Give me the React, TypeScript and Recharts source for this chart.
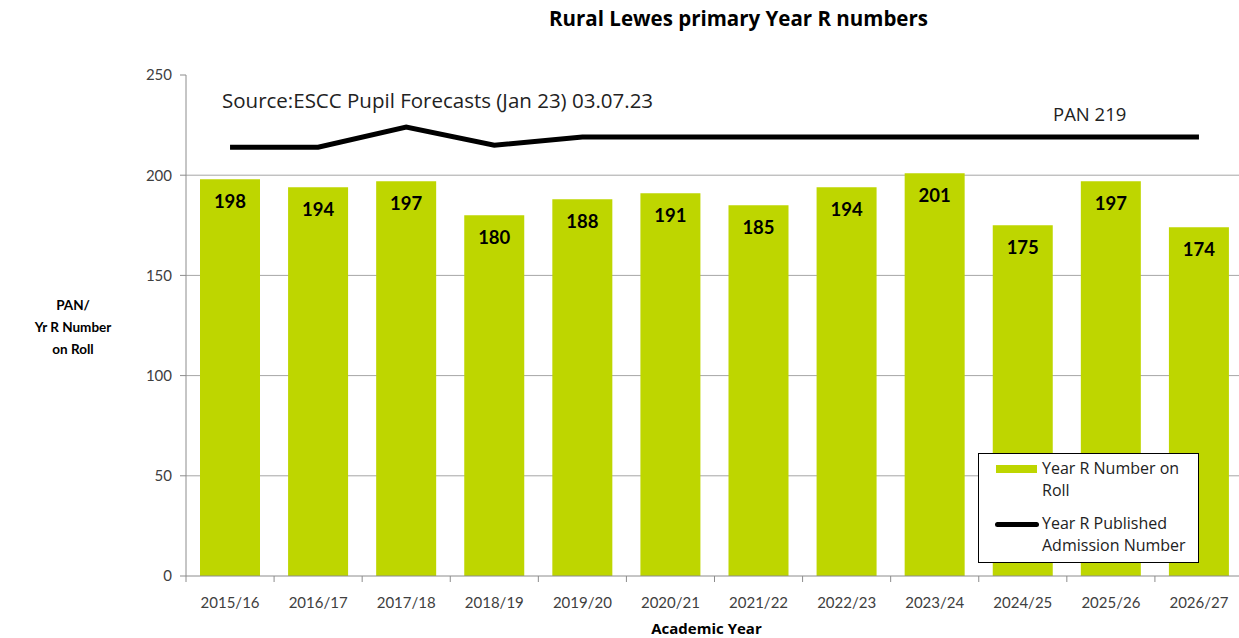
import React from 'react';
import { ComposedChart, Bar, Line, XAxis, YAxis, CartesianGrid, LabelList, Legend } from 'recharts';

const categories = ['2015/16', '2016/17', '2017/18', '2018/19', '2019/20', '2020/21', '2021/22', '2022/23', '2023/24', '2024/25', '2025/26', '2026/27'];
const yearRNumbers = [198, 194, 197, 180, 188, 191, 185, 194, 201, 175, 197, 174];
const panValues = [214, 214, 224, 215, 219, 219, 219, 219, 219, 219, 219, 219];
const yTicks = [0, 50, 100, 150, 200, 250];

const data = categories.map((c, i) => ({ year: c, roll: yearRNumbers[i], pan: panValues[i] }));

const FONT = 'Lato, "Open Sans", sans-serif';
const WIDE = '"Open Sans", Lato, sans-serif';
const GREEN = '#BED600';
const AXIS = '#8c8c8c';

const XTick = (props: any) => {
  const { x, y, payload, index, visibleTicksCount } = props;
  const half = payload && payload.offset ? payload.offset : 44;
  const last = index === visibleTicksCount - 1;
  return (
    <g>
      <line x1={x - half} y1={y} x2={x - half} y2={y + 6} stroke={AXIS} strokeWidth={1} />
      {last && <line x1={x + half} y1={y} x2={x + half} y2={y + 6} stroke={AXIS} strokeWidth={1} />}
      <text x={x} y={y + 32} textAnchor="middle" fontSize={15} fill="#404040" fontFamily={FONT}>
        {payload.value}
      </text>
    </g>
  );
};

const LegendContent = () => (
  <div
    style={{
      width: 221,
      height: 110,
      boxSizing: 'border-box',
      border: '1.5px solid #000',
      background: '#fff',
      fontFamily: WIDE,
      fontSize: 16,
      color: '#222',
      position: 'relative',
      textAlign: 'left',
    }}
  >
    <div style={{ position: 'absolute', left: 17, top: 11, width: 41, height: 8, background: GREEN }} />
    <div style={{ position: 'absolute', left: 63, top: 3, lineHeight: '22px', whiteSpace: 'nowrap' }}>
      Year R Number on<br />Roll
    </div>
    <div style={{ position: 'absolute', left: 16, top: 68, width: 44, height: 5, background: '#000', borderRadius: 3 }} />
    <div style={{ position: 'absolute', left: 63, top: 58, lineHeight: '22px', whiteSpace: 'nowrap' }}>
      Year R Published<br />Admission Number
    </div>
  </div>
);

export default function App() {
  return (
    <div style={{ position: 'absolute', left: 0, top: 0, width: 1239, height: 638, background: '#fff', fontFamily: FONT }}>
      <ComposedChart
        width={1239}
        height={638}
        data={data}
        margin={{ top: 75, right: -4, bottom: 0, left: 0 }}
      >
        <CartesianGrid vertical={false} stroke="#a6a6a6" horizontalValues={[50, 100, 150, 200]} />
        <XAxis
          dataKey="year"
          stroke={AXIS}
          tickLine={false}
          tickSize={0}
          tickMargin={0}
          height={62}
          tick={<XTick />}
          interval={0}
          label={{
            value: 'Academic Year',
            position: 'insideBottom',
            offset: 0,
            dx: -8,
            dy: -4,
            fontSize: 15,
            fontWeight: 700,
            fill: '#000',
            fontFamily: WIDE,
          }}
        />
        <YAxis
          domain={[0, 250]}
          ticks={yTicks}
          width={186}
          stroke={AXIS}
          tickSize={6}
          tickMargin={8}
          tick={{ fontSize: 15, fill: '#404040', fontFamily: FONT }}
          label={{
            content: () => (
              <text textAnchor="middle" fontSize={13.5} fontWeight={700} fill="#000" fontFamily={FONT}>
                <tspan x={73} y={310}>PAN/</tspan>
                <tspan x={73} y={332}>Yr R Number</tspan>
                <tspan x={73} y={354}>on Roll</tspan>
              </text>
            ),
          }}
        />
        <Legend
          layout="horizontal"
          verticalAlign="middle"
          align="center"
          wrapperStyle={{ left: 978, top: 453, width: 221, height: 110 }}
          content={<LegendContent />}
        />
        <Bar dataKey="roll" name="Year R Number on Roll" fill={GREEN} barSize={60} isAnimationActive={false}>
          <LabelList
            dataKey="roll"
            position="insideTop"
            offset={16}
            fontSize={18.5}
            fontWeight={700}
            fill="#000"
            fontFamily={FONT}
          />
        </Bar>
        <Line
          dataKey="pan"
          name="Year R Published Admission Number"
          stroke="#000"
          strokeWidth={5}
          dot={false}
          activeDot={false}
          isAnimationActive={false}
        />
      </ComposedChart>
      <div
        style={{
          position: 'absolute',
          left: 0,
          width: 1477,
          top: 4,
          textAlign: 'center',
          fontSize: 20.5,
          fontWeight: 700,
          color: '#000',
          fontFamily: WIDE,
          whiteSpace: 'nowrap',
        }}
      >
        Rural Lewes primary Year R numbers
      </div>
      <div style={{ position: 'absolute', left: 222, top: 86, fontSize: 20.5, color: '#222', fontFamily: WIDE, whiteSpace: 'nowrap' }}>
        Source:ESCC Pupil Forecasts (Jan 23) 03.07.23
      </div>
      <div style={{ position: 'absolute', left: 1053, top: 101, fontSize: 18.5, color: '#222', fontFamily: WIDE, whiteSpace: 'nowrap' }}>PAN 219</div>
    </div>
  );
}
